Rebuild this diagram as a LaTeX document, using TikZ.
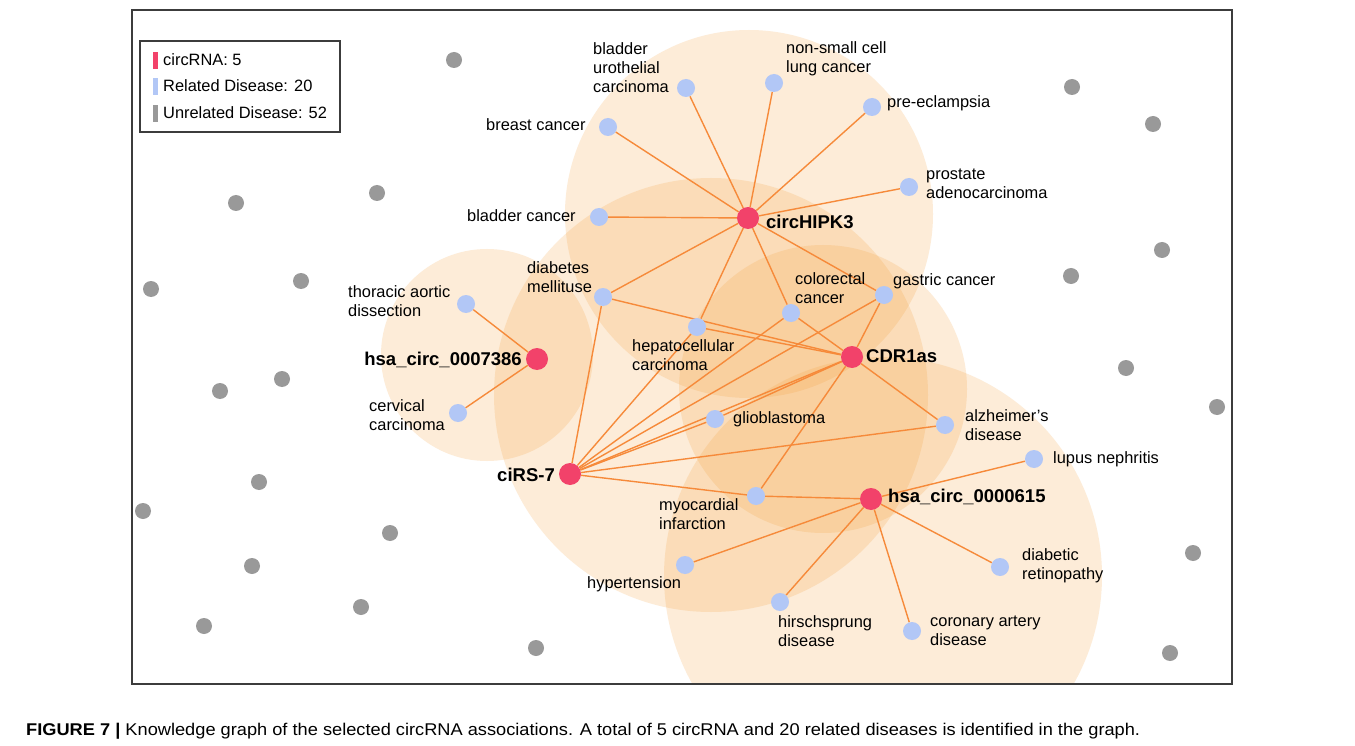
\documentclass[tikz,border=0pt]{standalone}
\usepackage{fontspec}
\setmainfont{Liberation Sans}
\usetikzlibrary{shapes.geometric}
\definecolor{rnac}{RGB}{242,66,106}
\definecolor{disc}{RGB}{178,199,246}
\definecolor{unc}{RGB}{153,153,153}
\definecolor{edgec}{RGB}{246,138,58}
\definecolor{haloc}{RGB}{245,160,60}
\definecolor{framec}{RGB}{60,60,60}
\newcommand\lblfont{\fontsize{16.4}{19}\selectfont}
\newcommand\rnafont{\fontsize{18.5}{21}\selectfont\bfseries}
\pgfdeclarelayer{bglayer}
\pgfdeclarelayer{halolayer}
\pgfdeclarelayer{edgelayer}
\pgfsetlayers{bglayer,halolayer,edgelayer,main}
\tikzset{
  rna/.style={circle, fill=rnac, minimum size=22pt, inner sep=0pt},
  dis/.style={circle, fill=disc, minimum size=18pt, inner sep=0pt},
  unrel/.style={circle, fill=unc, minimum size=16pt, inner sep=0pt},
  link/.style={draw=edgec, line width=1.4pt},
  halo/.style={fill=haloc, fill opacity=0.2},
  lab/.style={inner sep=0pt, anchor=base west, align=left, font=\lblfont},
  rlab/.style={inner sep=0pt, anchor=base west, font=\rnafont},
  rlabr/.style={inner sep=0pt, anchor=base east, font=\rnafont},
  legbar/.style={fill=#1, draw=none},
}
\begin{document}
\begin{tikzpicture}[x=1pt,y=-1pt]
\useasboundingbox (0,0) rectangle (1355,746);
\begin{pgfonlayer}{bglayer}
\fill[white] (0,0) rectangle (1355,746);
\end{pgfonlayer}

% halos
\begin{pgfonlayer}{halolayer}
\begin{scope}
\clip (132,10) rectangle (1232,684);
\fill[halo] (749,214) circle[radius=184pt];
\fill[halo] (487,355) circle[radius=106pt];
\fill[halo] (711,395) circle[radius=217pt];
\fill[halo] (823,389) circle[radius=144pt];
\fill[halo] (883,576) circle[radius=219pt];
\end{scope}
\end{pgfonlayer}

% frame
\draw[framec, line width=1.3pt] (132,10) rectangle (1232,684);

% legend
\draw[framec, line width=1.3pt, fill=white] (140,41) rectangle (340,132);
\fill[legbar=rnac] (153,52) rectangle (158,69);
\fill[legbar=disc] (153,78) rectangle (158,95);
\fill[legbar=unc] (153,105) rectangle (158,122);
\node[lab] (lg1) at (163,66) {circRNA: 5};
\node[lab] (lg2) at (163,92) {Related Disease: 20};
\node[lab] (lg3) at (163,119) {Unrelated Disease: 52};

% circRNA nodes
\node[rna] (hipk) at (748,218) {};
\node[rna] (c7386) at (537,359) {};
\node[rna] (cirs) at (570,474) {};
\node[rna] (cdr) at (852,357) {};
\node[rna] (c615) at (871,499) {};

% disease nodes
\node[dis] (bu) at (686,88) {};
\node[dis] (nsclc) at (774,83) {};
\node[dis] (pe) at (872,107) {};
\node[dis] (bc) at (608,127) {};
\node[dis] (pa) at (909,187) {};
\node[dis] (blc) at (599,217) {};
\node[dis] (dm) at (603,297) {};
\node[dis] (crc) at (791,313) {};
\node[dis] (gc) at (884,295) {};
\node[dis] (hcc) at (697,327) {};
\node[dis] (tad) at (466,304) {};
\node[dis] (cc) at (458,413) {};
\node[dis] (gbm) at (715,419) {};
\node[dis] (ad) at (945,425) {};
\node[dis] (ln) at (1034,459) {};
\node[dis] (mi) at (756,496) {};
\node[dis] (ht) at (685,565) {};
\node[dis] (dr) at (1000,567) {};
\node[dis] (hd) at (780,602) {};
\node[dis] (cad) at (912,631) {};

% unrelated nodes
\node[unrel] (u1) at (454,60) {};
\node[unrel] (u2) at (236,203) {};
\node[unrel] (u3) at (377,193) {};
\node[unrel] (u4) at (151,289) {};
\node[unrel] (u5) at (301,281) {};
\node[unrel] (u6) at (282,379) {};
\node[unrel] (u7) at (220,391) {};
\node[unrel] (u8) at (259,482) {};
\node[unrel] (u9) at (143,511) {};
\node[unrel] (u10) at (390,533) {};
\node[unrel] (u11) at (252,566) {};
\node[unrel] (u12) at (361,607) {};
\node[unrel] (u13) at (204,626) {};
\node[unrel] (u14) at (536,648) {};
\node[unrel] (u15) at (1072,87) {};
\node[unrel] (u16) at (1153,124) {};
\node[unrel] (u17) at (1162,250) {};
\node[unrel] (u18) at (1071,276) {};
\node[unrel] (u19) at (1126,368) {};
\node[unrel] (u20) at (1217,407) {};
\node[unrel] (u21) at (1193,553) {};
\node[unrel] (u22) at (1170,653) {};

% edges
\begin{pgfonlayer}{edgelayer}
\foreach \d in {bu,nsclc,pe,bc,pa,blc,dm,hcc,crc,gc}{\draw[link] (hipk) -- (\d);}
\foreach \d in {tad,cc}{\draw[link] (c7386) -- (\d);}
\foreach \d in {dm,hcc,crc,gc,gbm,ad,mi}{\draw[link] (cdr) -- (\d);}
\foreach \d in {dm,hcc,crc,gc,cdr,gbm,ad,mi}{\draw[link] (cirs) -- (\d);}
\foreach \d in {mi,ln,ht,hd,cad,dr}{\draw[link] (c615) -- (\d);}
\end{pgfonlayer}

% labels (base = baseline of last line)
\node[lab] (t-bu) at (593,93) {bladder\\urothelial\\carcinoma};
\node[lab] (t-nsclc) at (786,73) {non-small cell\\lung cancer};
\node[lab] (t-pe) at (887,108) {pre-eclampsia};
\node[lab] (t-bc) at (486,131) {breast cancer};
\node[lab] (t-pa) at (926,199) {prostate\\adenocarcinoma};
\node[lab] (t-blc) at (467,222) {bladder cancer};
\node[lab] (t-dm) at (527,292) {diabetes\\mellituse};
\node[lab] (t-crc) at (795,303) {colorectal\\cancer};
\node[lab] (t-gc) at (893,285) {gastric cancer};
\node[lab] (t-tad) at (348,316) {thoracic aortic\\dissection};
\node[lab] (t-hcc) at (632,370) {hepatocellular\\carcinoma};
\node[lab] (t-cc) at (369,430) {cervical\\carcinoma};
\node[lab] (t-gbm) at (733,423) {glioblastoma};
\node[lab] (t-ad) at (965,440) {alzheimer's\\disease};
\node[lab] (t-ln) at (1053,463) {lupus nephritis};
\node[lab] (t-mi) at (659,529) {myocardial\\infarction};
\node[lab] (t-ht) at (587,588) {hypertension};
\node[lab] (t-dr) at (1022,579) {diabetic\\retinopathy};
\node[lab] (t-hd) at (778,646) {hirschsprung\\disease};
\node[lab] (t-cad) at (930,645) {coronary artery\\disease};

\node[rlab] (t-hipk) at (766,229) {circHIPK3};
\node[rlab] (t-cdr) at (866,362) {CDR1as};
\node[rlab] (t-c615) at (888,502) {hsa\_circ\_0000615};
\node[rlabr] (t-cirs) at (555,481) {ciRS-7};
\node[rlabr] (t-c7386) at (522,365) {hsa\_circ\_0007386};

% caption
\node[inner sep=0pt, anchor=base west, font=\fontsize{17}{20}\selectfont] (cap) at (26,735)
  {\resizebox{1114pt}{\height}{\textbf{FIGURE 7 |} Knowledge graph of the selected circRNA associations. A total of 5 circRNA and 20 related diseases is identified in the graph.}};
\end{tikzpicture}
\end{document}
